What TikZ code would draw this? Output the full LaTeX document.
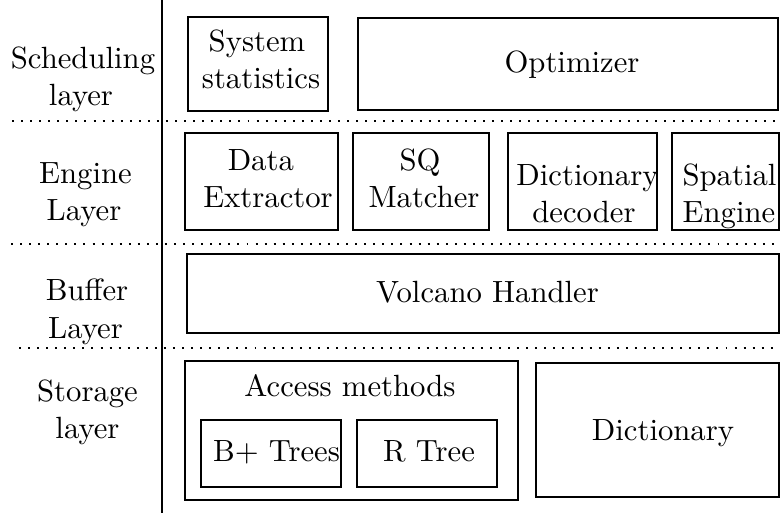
\documentclass[tikz,border=0pt]{standalone}
\usetikzlibrary{fit}
\begin{document}
\begin{tikzpicture}[x=0.3257pt, y=-0.3257pt,
  box/.style={draw, line width=0.65pt, inner sep=0pt},
  rule/.style={line width=0.65pt},
  sepline/.style={line width=0.65pt, dash pattern=on 0.65pt off 2.3pt},
  txt/.style={anchor=base, inner sep=0pt}]
\useasboundingbox (0,0) rectangle (782,513);
% vertical divider
\coordinate (vtop) at (161.7,0);
\coordinate (vbot) at (161.7,513);
\draw[rule] (vtop) -- (vbot);
% dotted separators
\coordinate (s1a) at (12,120.7);  \coordinate (s1b) at (779,120.7);
\coordinate (s2a) at (11,244);    \coordinate (s2b) at (779,244);
\coordinate (s3a) at (19,348.3);  \coordinate (s3b) at (779,348.3);
\draw[sepline] (s1a) -- (s1b);
\draw[sepline] (s2a) -- (s2b);
\draw[sepline] (s3a) -- (s3b);
% layer labels
\node[txt] (sch1) at (83,68.3) {Scheduling};
\node[txt] (sch2) at (81,105) {layer};
\node[txt] (eng1) at (85.5,183) {Engine};
\node[txt] (eng2) at (84,220) {Layer};
\node[txt] (buf1) at (87,300.7) {Buffer};
\node[txt] (buf2) at (85.5,338) {Layer};
\node[txt] (sto1) at (87.5,401.7) {Storage};
\node[txt] (sto2) at (87.5,438.5) {layer};
% scheduling layer boxes
\node[box, fit={(187.7,16.7) (327.7,110.7)}] (sys) {};
\node[txt] (sys1) at (257,51.7) {System};
\node[txt] (sys2) at (261,88.7) {statistics};
\node[box, fit={(358.3,18.3) (778.3,110)}] (opt) {};
\node[txt] (opt1) at (572,72.7) {Optimizer};
% engine layer boxes
\node[box, fit={(185,132.7) (338.3,230)}] (dex) {};
\node[txt] (dex1) at (260.8,170) {Data};
\node[txt] (dex2) at (268,207) {Extractor};
\node[box, fit={(352.7,132.7) (489.3,230)}] (sqm) {};
\node[txt] (sqm1) at (420,170) {SQ};
\node[txt] (sqm2) at (424,207) {Matcher};
\node[box, fit={(508.3,133) (656.7,230)}] (ddc) {};
\node[txt] (ddc1) at (587.5,185) {Dictionary};
\node[txt] (ddc2) at (584,222.5) {decoder};
\node[box, fit={(671.7,133) (779,230)}] (spe) {};
\node[txt] (spe1) at (729.5,185) {Spatial};
\node[txt] (spe2) at (729,222) {Engine};
% buffer layer
\node[box, fit={(186.7,254) (779,332.7)}] (vol) {};
\node[txt] (vol1) at (487.5,302.7) {Volcano Handler};
% storage layer
\node[box, fit={(185,360.7) (517.7,500)}] (acc) {};
\node[txt] (acc1) at (350,396.7) {Access methods};
\node[box, fit={(201,420) (341,487.3)}] (bpt) {};
\node[txt] (bpt1) at (276.5,461.7) {B+ Trees};
\node[box, fit={(356.7,420) (496.7,487.3)}] (rtr) {};
\node[txt] (rtr1) at (429,461.7) {R Tree};
\node[box, fit={(536,363.3) (779,497.3)}] (dic) {};
\node[txt] (dic1) at (663,440) {Dictionary};
\end{tikzpicture}
\end{document}
